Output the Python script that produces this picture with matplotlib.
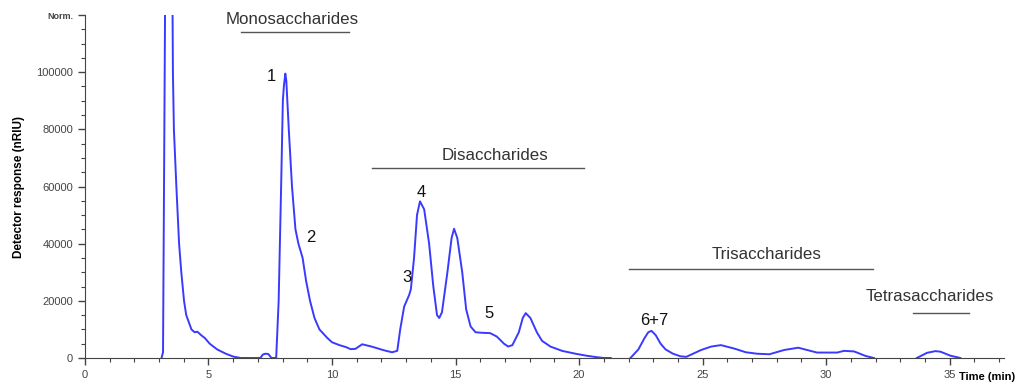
import numpy as np
import matplotlib.pyplot as plt

plt.rcParams['font.family'] = ['Liberation Sans', 'DejaVu Sans']

# retention time (min) and detector response (nRIU)
time = [3.10, 3.16, 3.20, 3.24, 3.28, 3.54, 3.56, 3.60, 3.70, 3.81, 3.90, 4.01, 4.10, 4.31,
        4.44, 4.55, 4.70, 4.85, 5.05, 5.35, 5.70, 6.00, 6.30, 7.10, 7.20, 7.30, 7.42, 7.55,
        7.74, 7.84, 7.94, 8.01, 8.05, 8.11, 8.15, 8.25, 8.38, 8.52, 8.64, 8.81, 8.95, 9.11,
        9.29, 9.49, 9.81, 10.0, 10.3, 10.57, 10.75, 10.95, 11.22, 11.6, 12.1, 12.43, 12.64,
        12.76, 12.92, 13.12, 13.19, 13.32, 13.44, 13.56, 13.73, 13.93, 14.10, 14.25, 14.34,
        14.45, 14.67, 14.84, 14.94, 15.07, 15.27, 15.43, 15.61, 15.81, 16.1, 16.4, 16.67,
        16.96, 17.13, 17.30, 17.56, 17.72, 17.84, 18.03, 18.29, 18.50, 18.84, 19.31, 19.85,
        20.3, 20.7, 21.0, 21.28, 21.5,
        22.08, 22.4, 22.65, 22.8, 22.93, 23.1, 23.3, 23.5, 23.8, 24.1, 24.34, 24.94, 25.35,
        25.74, 26.28, 26.75, 27.2, 27.7, 28.3, 28.87, 29.23, 29.63, 30.1, 30.45, 30.72,
        31.13, 31.6, 31.93, 32.1,
        33.67, 34.08, 34.42, 34.63, 35.03, 35.43]
response = [0, 2000, 60000, 125000, 130000, 130000, 100000, 80000, 60000, 40000, 30000, 20000,
            15000, 10000, 9000, 9200, 8000, 7000, 5000, 3000, 1500, 500, 0, 0, 1200, 1500,
            1400, 0, 0, 20000, 60000, 90000, 95000, 99500, 97000, 80000, 60000, 45000, 40000,
            35000, 27000, 20000, 14000, 10000, 7000, 5500, 4500, 3800, 3100, 3200, 4800, 4000,
            2700, 2000, 2500, 10000, 18000, 22000, 24000, 35000, 50000, 54800, 52000, 40000,
            25000, 15000, 14000, 16000, 30000, 42000, 45200, 42000, 30000, 17000, 11000, 9000,
            8800, 8700, 7500, 5000, 4000, 4500, 9000, 14000, 15700, 14000, 9000, 6000, 4000,
            2500, 1500, 800, 300, 0, 0, np.nan,
            0, 3000, 7000, 9000, 9500, 8000, 5000, 3000, 1500, 600, 400, 2800, 4000,
            4500, 3300, 2000, 1500, 1300, 2800, 3600, 2800, 1900, 1900, 1900, 2500,
            2300, 700, 0, np.nan,
            0, 1800, 2400, 2200, 800, 0]

# compound classes: label, line start, line end, line height, text x, text y
groups = ['Monosaccharides', 'Disaccharides', 'Trisaccharides', 'Tetrasaccharides']
group_x0 = [6.3, 11.6, 22.0, 33.5]
group_x1 = [10.7, 20.2, 31.9, 35.8]
group_y = [114000, 66300, 31200, 15800]
group_tx = [8.4, 16.6, 27.6, 34.2]
group_ty = [118600, 71000, 36100, 21400]

peaks = ['1', '2', '3', '4', '5', '6+7']
peak_x = [7.55, 9.15, 13.05, 13.62, 16.35, 23.05]
peak_y = [98600, 42100, 28000, 57900, 15400, 13000]

fig = plt.figure(figsize=(10.26, 3.83), dpi=100)
ax = fig.add_axes([0.0828, 0.0653, 0.8958, 0.8955])

ax.plot(time, response, color='#3a3aff', lw=1.4)

for name, a, b, yl, tx, ty in zip(groups, group_x0, group_x1, group_y, group_tx, group_ty):
    ax.plot([a, b], [yl, yl], color='#555555', lw=1)
    ax.text(tx, ty, name, ha='center', va='center', fontsize=12.2, color='#333333')

for lab, px, py in zip(peaks, peak_x, peak_y):
    ax.text(px, py, lab, ha='center', va='center', fontsize=12, color='#111111')

ax.set_xlim(0, 37.2)
ax.set_ylim(0, 120000)
ax.set_xticks([0, 5, 10, 15, 20, 25, 30, 35])
ax.set_xticks(np.arange(0, 38, 1), minor=True)
ax.set_yticks([0, 20000, 40000, 60000, 80000, 100000, 120000])
ax.set_yticklabels(['0', '20000', '40000', '60000', '80000', '100000', 'Norm.'])
ax.set_yticks(np.arange(0, 120001, 5000), minor=True)
ax.tick_params(labelsize=8, colors='#444444', length=5, width=1)
ax.tick_params(which='minor', length=3, width=0.8, colors='#444444')
lab = ax.get_yticklabels()[-1]
lab.set_fontsize(6.5)
lab.set_fontweight('bold')

for s in ['top', 'right']:
    ax.spines[s].set_visible(False)
for s in ['left', 'bottom']:
    ax.spines[s].set_color('#444444')

ax.set_ylabel('Detector response (nRIU)', fontsize=8.5, fontweight='bold', labelpad=8)
ax.text(35.37, -0.055, 'Time (min)', transform=ax.get_xaxis_transform(), ha='left',
        va='center', fontsize=8, fontweight='bold')

fig.savefig('out.png', dpi=100)
